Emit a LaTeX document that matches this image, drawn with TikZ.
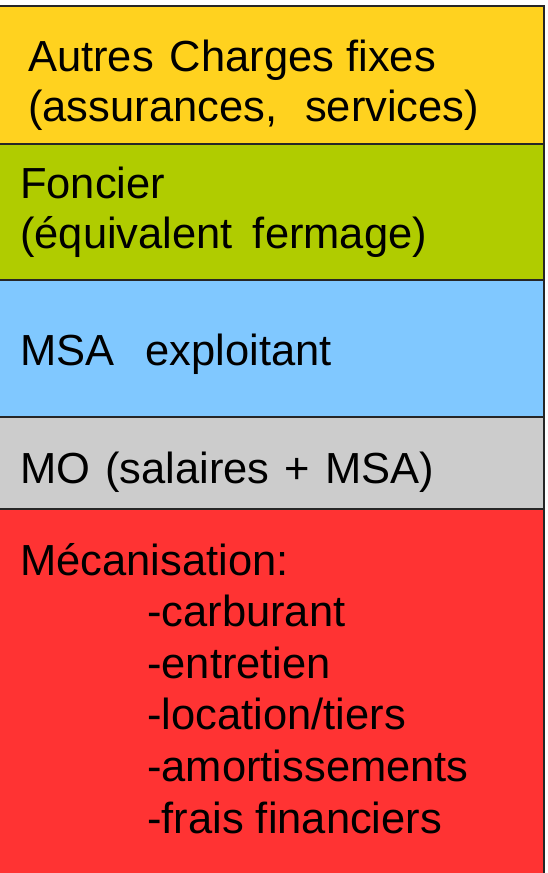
\documentclass[tikz,border=0pt]{standalone}
\usepackage{fontspec}
\setmainfont{Liberation Sans}
\usetikzlibrary{positioning}

\definecolor{jaune}{HTML}{FFD21F}
\definecolor{vert}{HTML}{B0CC00}
\definecolor{bleu}{HTML}{80C8FF}
\definecolor{gris}{HTML}{CCCCCC}
\definecolor{rouge}{HTML}{FF3333}

\begin{document}
\begin{tikzpicture}[
    x=1pt, y=-1pt,
    node distance=0pt,
    bande/.style={draw=black!85, line width=1.2pt, outer sep=0pt, inner sep=0pt,
        minimum width=546pt, anchor=north west},
    texte/.style={inner sep=0pt, anchor=base west, align=left,
        font=\fontsize{43.5}{50}\selectfont}
]
\useasboundingbox (0,0) rectangle (547,873);

% Bandes de couleur
\node[bande, fill=jaune, minimum height=138pt] (charges) at (-2,6) {};
\node[bande, fill=vert, minimum height=136pt, below=of charges] (foncier) {};
\node[bande, fill=bleu, minimum height=137pt, below=of foncier] (msa) {};
\node[bande, fill=gris, minimum height=92pt, below=of msa] (mo) {};
\node[bande, fill=rouge, minimum height=366pt, below=of mo] (meca) {};

% Textes (ancre sur la derniere ligne)
\node[texte] (tcharges) at ([xshift=30pt, yshift=-115pt]charges.north west)
    {Autres\hspace{16pt}Charges fixes\\(assurances,\hspace{28pt}services)};
\node[texte] (tfoncier) at ([xshift=22pt, yshift=-104pt]foncier.north west)
    {Foncier\\(équivalent\hspace{20pt}fermage)};
\node[texte] (tmsa) at ([xshift=22pt, yshift=-85pt]msa.north west)
    {MSA\hspace{31pt}exploitant};
\node[texte] (tmo) at ([xshift=22pt, yshift=-66pt]mo.north west)
    {\spaceskip=15pt MO (salaires + MSA)};
\node[texte, font=\fontsize{43.5}{51.6}\selectfont] (tmeca) at ([xshift=22pt, yshift=-324pt]meca.north west)
    {Mécanisation:\\
    \hspace*{127pt}-carburant\\
    \hspace*{127pt}-entretien\\
    \hspace*{127pt}-location/tiers\\
    \hspace*{127pt}-amortissements\\
    \hspace*{127pt}-frais financiers};

\end{tikzpicture}
\end{document}
